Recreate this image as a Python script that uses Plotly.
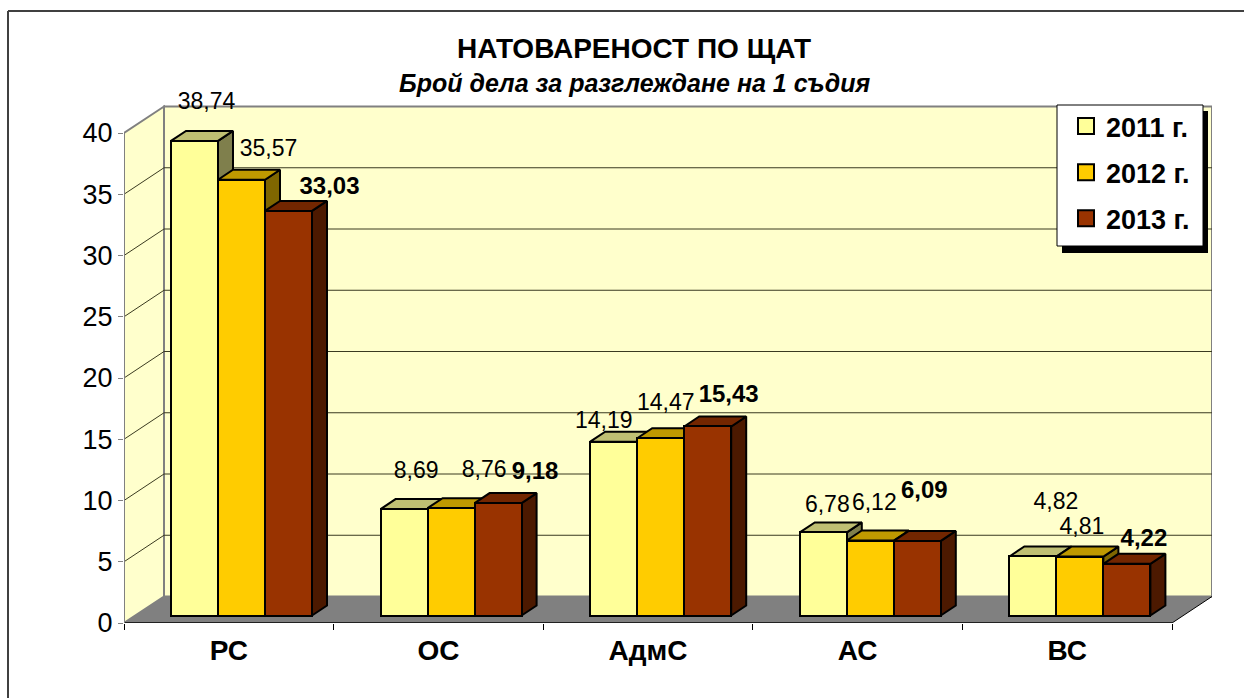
import plotly.graph_objects as go

# ---- data ----
CATEGORIES = ["РС", "ОС", "АдмС", "АС", "ВС"]
SERIES_NAMES = ["2011 г.", "2012 г.", "2013 г."]
VALUES_2011 = [38.74, 8.69, 14.19, 6.78, 4.82]
VALUES_2012 = [35.57, 8.76, 14.47, 6.12, 4.81]
VALUES_2013 = [33.03, 9.18, 15.43, 6.09, 4.22]
Y_TICKS = [0, 5, 10, 15, 20, 25, 30, 35, 40]

TITLE = "НАТОВАРЕНОСТ ПО ЩАТ"
SUBTITLE = "Брой дела за разглеждане на 1 съдия"

# ---- styles ----
FONT = "Liberation Sans"
FRONT = ["#FFFF99", "#FFCC00", "#993300"]
TOP = ["#BFBF73", "#BF9900", "#732600"]
SIDE = ["#7F7F4C", "#7F6600", "#4C1900"]
WALL = "#FFFFCC"
FLOOR = "#808080"

# ---- geometry (pixels) ----
W, H = 1244, 698
L, R, T, B = 124, 32, 85, 75      # plot area (headroom above the walls for labels)
CAT_PX = 209.6                    # one category
UNIT_PX = 12.25                   # one value unit
WALL_DX, WALL_DY = 40, 26.5       # depth of the box
BAR_DX, BAR_DY = 15, 10           # depth of the bars
BAR_PX = 47                       # width of a bar
BAR_LEFT = 171                    # left edge of the first bar
BASE = 7.5 / UNIT_PX              # bars stand a little behind the front edge

to_x = lambda px: px / CAT_PX
to_y = lambda px: px / UNIT_PX
wx, wy = to_x(WALL_DX), to_y(WALL_DY)
bx, by = to_x(BAR_DX), to_y(BAR_DY)
bw = to_x(BAR_PX)
n = len(CATEGORIES)
x_range = [0, n + wx]
y_range = [0, (H - B - T) / UNIT_PX]
top_val = max(Y_TICKS)
wall_top = top_val + wy

# label offsets from each bar's top centre, in pixels (series, category)
LABEL_DX = [[12, 12, -10, 4, 23], [27, 33, 5, 4, 2], [41, 37, 21, 7, 17]]
LABEL_DY = [[-38, -37, -19, -26, -53], [-30, -37, -34, -36, -28], [-23, -30, -30, -49, -24]]
LABEL_SIZE = [23, 23, 24]

series = [VALUES_2011, VALUES_2012, VALUES_2013]
fig = go.Figure()


def polys(items):
    xs, ys = [], []
    for px_, py_ in items:
        xs += px_ + [None]
        ys += py_ + [None]
    return xs, ys


for i, (name, vals) in enumerate(zip(SERIES_NAMES, series)):
    lefts = [c + (BAR_LEFT - L) / CAT_PX + i * bw for c in range(n)]
    sides, tops = [], []
    for x0, v in zip(lefts, vals):
        x1 = x0 + bw
        t = BASE + v
        sides.append(([x1, x1 + bx, x1 + bx, x1, x1], [BASE, BASE + by, t + by, t, BASE]))
        tops.append(([x0, x0 + bx, x1 + bx, x1, x0], [t, t + by, t + by, t, t]))
    for faces, col in ((sides, SIDE[i]), (tops, TOP[i])):
        xs, ys = polys(faces)
        fig.add_trace(go.Scatter(x=xs, y=ys, mode="lines", fill="toself", fillcolor=col,
                                 line=dict(color="black", width=2), showlegend=False,
                                 hoverinfo="skip", zorder=10 * i + 1))
    fig.add_trace(go.Bar(x=[x + bw / 2 for x in lefts], y=vals, base=BASE, width=bw, name=name,
                         marker=dict(color=FRONT[i], line=dict(color="black", width=2)),
                         showlegend=False, zorder=10 * i + 2))
    # legend key
    fig.add_trace(go.Scatter(x=[None], y=[None], mode="markers", name=name, legendgroup=name,
                             marker=dict(symbol="square", size=16, color=FRONT[i],
                                         line=dict(color="black", width=2))))
    # data labels
    fig.add_trace(go.Scatter(
        x=[x + bw / 2 + to_x(dx) for x, dx in zip(lefts, LABEL_DX[i])],
        y=[BASE + v - to_y(dy) for v, dy in zip(vals, LABEL_DY[i])],
        mode="text",
        text=[f"<b>{v:.2f}</b>".replace(".", ",") if i == 2 else f"{v:.2f}".replace(".", ",") for v in vals],
        textposition="middle center",
        textfont=dict(family=FONT, size=LABEL_SIZE[i], color="black"),
        cliponaxis=False,
        showlegend=False, hoverinfo="skip", zorder=100))

shapes = []
# walls and floor
shapes.append(dict(type="path", layer="below", line=dict(color="#808080", width=2), fillcolor=WALL,
                   path=f"M {wx} {wy} L {n + wx} {wy} L {n + wx} {wall_top} L {wx} {wall_top} Z"))
shapes.append(dict(type="path", layer="below", line=dict(color="#808080", width=2), fillcolor=WALL,
                   path=f"M 0 0 L {wx} {wy} L {wx} {wall_top} L 0 {top_val} Z"))
shapes.append(dict(type="path", layer="below", line=dict(width=0), fillcolor=FLOOR,
                   path=f"M 0 0 L {n} 0 L {n + wx} {wy} L {wx} {wy} Z"))
# gridlines
for t in Y_TICKS[1:-1]:
    shapes.append(dict(type="line", layer="below", x0=wx, x1=n + wx, y0=t + wy, y1=t + wy,
                       line=dict(color="#3A3A20", width=1)))
    shapes.append(dict(type="line", layer="below", x0=0, x1=wx, y0=t, y1=t + wy,
                       line=dict(color="#3A3A20", width=1)))
# floor front edges and left axis
shapes.append(dict(type="line", layer="below", x0=0, x1=n, y0=0, y1=0, line=dict(color="black", width=1.5)))
shapes.append(dict(type="line", layer="below", x0=n, x1=n + wx, y0=0, y1=wy, line=dict(color="black", width=1)))
shapes.append(dict(type="line", layer="below", x0=0, x1=0, y0=0, y1=top_val, line=dict(color="#808080", width=2)))
# outer frame (left and top)
px = lambda v: (v - L) / (W - L - R)
py = lambda v: (H - B - v) / (H - T - B)
shapes.append(dict(type="line", xref="paper", yref="paper", x0=px(8), x1=px(8), y0=py(11), y1=py(H),
                   line=dict(color="#404040", width=2)))
shapes.append(dict(type="line", xref="paper", yref="paper", x0=px(8), x1=px(W), y0=py(11), y1=py(11),
                   line=dict(color="#404040", width=2)))
# legend shadow and box
shapes.append(dict(type="rect", xref="paper", yref="paper", x0=px(1062), x1=px(1208), y0=py(111), y1=py(253),
                   fillcolor="black", line=dict(width=0), layer="above"))
shapes.append(dict(type="rect", xref="paper", yref="paper", x0=px(1057), x1=px(1203), y0=py(105), y1=py(246),
                   fillcolor="white", line=dict(color="black", width=1), layer="above"))

fig.update_layout(
    width=W, height=H, autosize=False,
    margin=dict(l=L, r=R, t=T, b=B, pad=0),
    paper_bgcolor="white", plot_bgcolor="rgba(0,0,0,0)",
    font=dict(family=FONT, color="black"),
    separators=", ",
    barmode="overlay", bargap=0,
    shapes=shapes,
    title=dict(text=f"<b>{TITLE}</b>", x=634 / W, xanchor="center", y=1 - 48 / H, yanchor="middle",
               font=dict(family=FONT, size=28, color="black")),
    annotations=[dict(text=f"<b><i>{SUBTITLE}</i></b>", xref="paper", yref="paper", x=px(634), y=py(83),
                      xanchor="center", yanchor="middle", showarrow=False,
                      font=dict(family=FONT, size=25, color="black"))],
    xaxis=dict(range=x_range, tickmode="array", tickvals=[c + 0.5 for c in range(n)], ticktext=[f"<b>{c}</b>" for c in CATEGORIES],
               showgrid=False, zeroline=False, showline=False, ticks="", ticklabelstandoff=8,
               tickfont=dict(family=FONT, size=28, color="black"),
               minor=dict(tickmode="array", tickvals=list(range(n + 1)), ticks="outside", ticklen=6, tickcolor="black", tickwidth=1, showgrid=False)),
    yaxis=dict(range=y_range, tickmode="array", tickvals=Y_TICKS, showgrid=False, zeroline=False, showline=False,
               ticks="outside", ticklen=5, tickcolor="#808080", tickwidth=1,
               tickfont=dict(family=FONT, size=27, color="black")),
    legend=dict(x=px(1066), xanchor="left", y=py(102), yanchor="top", bgcolor="rgba(0,0,0,0)", borderwidth=0,
                font=dict(family=FONT, size=27, color="black", weight="bold"), tracegroupgap=8, itemsizing="trace",
                traceorder="grouped"),
    hovermode=False,
)
fig.write_html("out.html", config=dict(displayModeBar=False), post_script="document.body.style.margin='0';")
